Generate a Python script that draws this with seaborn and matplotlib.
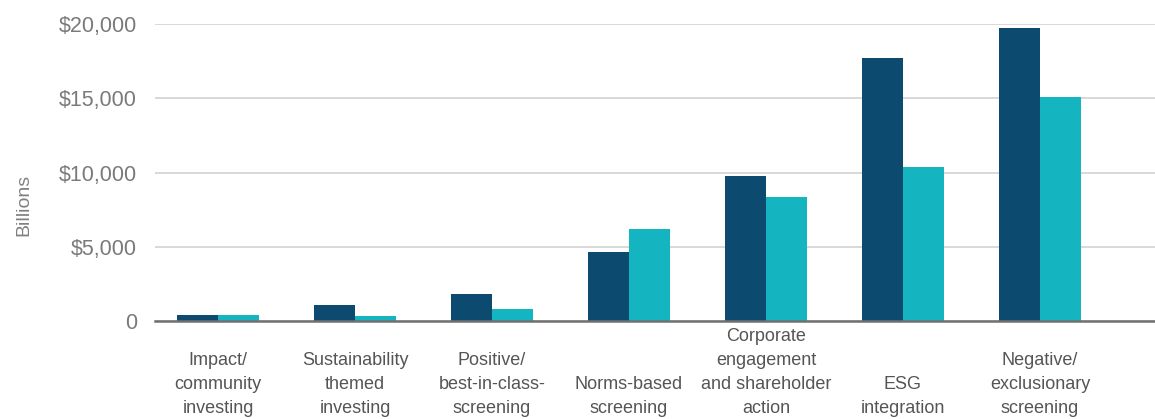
import matplotlib
matplotlib.use("Agg")
import matplotlib.pyplot as plt
import seaborn as sns
import pandas as pd

# Sustainable investing assets by strategy, US$ billions
categories = [
    "Impact/\ncommunity\ninvesting",
    "Sustainability\nthemed\ninvesting",
    "Positive/\nbest-in-class-\nscreening",
    "Norms-based\nscreening",
    "Corporate\nengagement\nand shareholder\naction",
    "ESG\nintegration",
    "Negative/\nexclusionary\nscreening",
]
assets_recent = [430, 1100, 1820, 4650, 9750, 17700, 19700]
assets_earlier = [390, 370, 780, 6180, 8380, 10400, 15080]
series_names = ["Recent", "Earlier"]

y_ticks = [0, 5000, 10000, 15000, 20000]
y_tick_labels = ["0", "$5,000", "$10,000", "$15,000", "$20,000"]

colors = {"Recent": "#0c4a70", "Earlier": "#14b5c0"}

df = pd.DataFrame({
    "strategy": categories * 2,
    "series": [series_names[0]] * len(categories) + [series_names[1]] * len(categories),
    "value": assets_recent + assets_earlier,
})

sns.set_theme(style="white")
plt.rcParams["font.family"] = ["Liberation Sans", "DejaVu Sans"]

fig = plt.figure(figsize=(11.55, 4.19), dpi=100)
ax = fig.add_axes([155 / 1155, 1 - 321 / 419, 1 - 155 / 1155, (321 - 24) / 419])

sns.barplot(
    data=df, x="strategy", y="value", hue="series",
    order=categories, hue_order=series_names, palette=colors,
    width=0.6, saturation=1, linewidth=0, legend=False, ax=ax,
)

ax.set_ylim(0, 20000)
ax.set_xlim(-0.46, 6.84)
ax.set_yticks(y_ticks)
ax.set_yticklabels(y_tick_labels)

# Pad labels with leading blank lines so their last lines share a baseline
n_lines = max(c.count("\n") + 1 for c in categories)
padded = ["\n" * (n_lines - (c.count("\n") + 1)) + c for c in categories]
ax.set_xticks(range(len(categories)))
ax.set_xticklabels(padded, linespacing=1.55)

ax.tick_params(axis="y", length=0, pad=13, labelsize=15.5, labelcolor="#7a7a7a")
ax.tick_params(axis="x", length=0, pad=5, labelsize=13, labelcolor="#555555")

ax.set_xlabel("")
ax.set_ylabel("Billions", fontsize=14, color="#808080")
ax.yaxis.set_label_coords(-0.123, 0.39)

ax.yaxis.grid(True, color="#d6d6d6", linewidth=1.3)
ax.set_axisbelow(True)
for side in ["top", "right", "left"]:
    ax.spines[side].set_visible(False)
ax.spines["bottom"].set_color("#707070")
ax.spines["bottom"].set_linewidth(1.8)
ax.spines["bottom"].set_zorder(5)

fig.savefig("out.png", dpi=100)
